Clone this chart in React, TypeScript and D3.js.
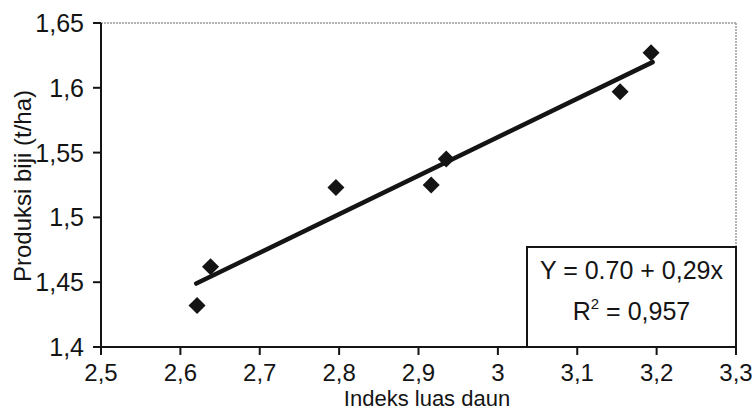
import React from "react";
import * as d3 from "d3";

const xValues = [2.621, 2.638, 2.796, 2.916, 2.935, 3.154, 3.193];
const yValues = [1.432, 1.462, 1.523, 1.525, 1.545, 1.597, 1.627];
const xTicks = [2.5, 2.6, 2.7, 2.8, 2.9, 3.0, 3.1, 3.2, 3.3];
const yTicks = [1.4, 1.45, 1.5, 1.55, 1.6, 1.65];
const fitRange = [2.62, 3.195];
const equationLine1 = "Y = 0.70 + 0,29x";
const r2Label = "R";
const r2Value = " = 0,957";
const xTitle = "Indeks luas daun";
const yTitle = "Produksi biji (t/ha)";

const W = 755;
const H = 410;
const left = 101;
const right = 736;
const top = 23;
const bottom = 347;
const FONT = "'Liberation Sans', Arial, Helvetica, sans-serif";
const INK = "#141414";

const fmt = (v: number) => String(+v.toFixed(2)).replace(".", ",");

export default function App() {
  const x = d3.scaleLinear().domain([2.5, 3.3]).range([left, right]);
  const y = d3.scaleLinear().domain([1.4, 1.65]).range([bottom, top]);

  const mx = d3.mean(xValues) as number;
  const my = d3.mean(yValues) as number;
  const sxy = d3.sum(xValues.map((v, i) => (v - mx) * (yValues[i] - my)));
  const sxx = d3.sum(xValues.map((v) => (v - mx) * (v - mx)));
  const slope = sxy / sxx;
  const intercept = my - slope * mx;
  const fitPts: [number, number][] = fitRange.map((v) => [v, intercept + slope * v]);
  const line = d3
    .line<[number, number]>()
    .x((d) => x(d[0]))
    .y((d) => y(d[1]));

  const diamond = d3.symbol().type(d3.symbolSquare).size(145)() as string;

  const boxX = 527;
  const boxY = 247;
  const boxCx = (boxX + right) / 2;

  return (
    <svg
      width={W}
      height={H}
      viewBox={`0 0 ${W} ${H}`}
      style={{ position: "absolute", left: 0, top: 0, background: "#fff" }}
    >
      <rect x={0} y={0} width={W} height={H} fill="#fff" />
      {/* top and right border (light dotted) */}
      <line x1={left} x2={right} y1={top} y2={top} stroke="#9a9a9a" strokeWidth={1.5} strokeDasharray="2 1" />
      <line x1={right} x2={right} y1={top} y2={bottom} stroke="#9a9a9a" strokeWidth={1.5} strokeDasharray="2 1" />

      {/* equation box */}
      <rect x={boxX} y={boxY} width={right - boxX} height={bottom - boxY} fill="#fff" stroke={INK} strokeWidth={2} />
      <text x={boxCx} y={279} textAnchor="middle" fontFamily={FONT} fontSize={25} fill={INK}>
        {equationLine1}
      </text>
      <text x={boxCx} y={320} textAnchor="middle" fontFamily={FONT} fontSize={25} fill={INK}>
        {r2Label}
        <tspan fontSize={15} dy={-11}>2</tspan>
        <tspan dy={11}>{r2Value}</tspan>
      </text>

      {/* axes */}
      <line x1={left} x2={left} y1={top} y2={bottom} stroke={INK} strokeWidth={2} />
      <line x1={left} x2={right} y1={bottom} y2={bottom} stroke={INK} strokeWidth={2} />
      {yTicks.map((t) => (
        <g key={"y" + t}>
          <line x1={left - 8} x2={left} y1={y(t)} y2={y(t)} stroke={INK} strokeWidth={2} />
          <text
            x={left - 17}
            y={y(t)}
            dy="0.36em"
            textAnchor="end"
            fontFamily={FONT}
            fontSize={25}
            fill={INK}
          >
            {fmt(t)}
          </text>
        </g>
      ))}
      {xTicks.map((t) => (
        <g key={"x" + t}>
          <line x1={x(t)} x2={x(t)} y1={bottom} y2={bottom + 8} stroke={INK} strokeWidth={2} />
          <text x={x(t)} y={381} textAnchor="middle" fontFamily={FONT} fontSize={24} fill={INK}>
            {fmt(t)}
          </text>
        </g>
      ))}
      <text x={427} y={406} textAnchor="middle" fontFamily={FONT} fontSize={22} fill={INK}>
        {xTitle}
      </text>
      <text
        transform={`translate(31, ${186}) rotate(-90)`}
        textAnchor="middle"
        fontFamily={FONT}
        fontSize={24}
        fill={INK}
      >
        {yTitle}
      </text>

      {/* regression line */}
      <path d={line(fitPts) as string} fill="none" stroke={INK} strokeWidth={4.5} strokeLinecap="round" />

      {/* points */}
      {xValues.map((v, i) => (
        <path
          key={"p" + i}
          d={diamond}
          transform={`translate(${x(v)}, ${y(yValues[i])}) rotate(45)`}
          fill={INK}
        />
      ))}
    </svg>
  );
}
